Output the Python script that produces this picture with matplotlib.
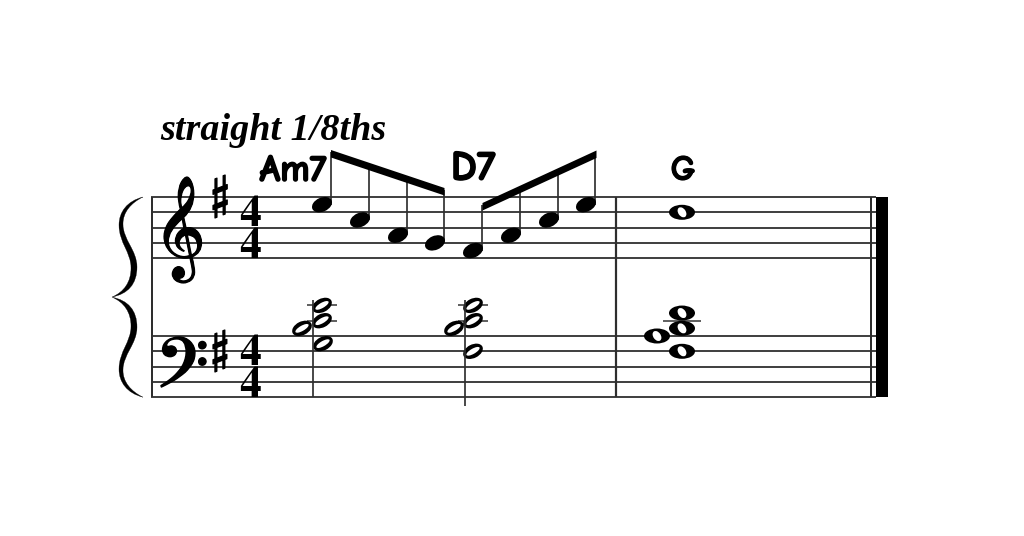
import matplotlib
matplotlib.use("Agg")
import matplotlib.pyplot as plt
import matplotlib.patheffects as pe
from matplotlib.patches import Ellipse, Polygon, PathPatch, Rectangle
from matplotlib.path import Path
from matplotlib.textpath import TextPath
from matplotlib.font_manager import FontProperties, fontManager
import numpy as np

# --- content ---
title = "straight 1/8ths"
chord_names = ["Am7", "D7", "G"]
melody_steps = [1, 3, 5, 6, 7, 5, 3, 1]          # half-spaces below top treble line
melody_x = [322, 360, 398, 435, 473, 511, 549, 586]
whole_treble = [(682, 2)]
bass_half1 = [(323, 1), (322, -2), (322, -4), (302, -1)]   # half-spaces below top bass line
bass_half2 = [(473, 2), (473, -2), (473, -4), (454, -1)]
bass_whole = [(682, 2), (682, -1), (682, -3), (657, 0)]

TREBLE_TOP, BASS_TOP, STEP = 197.0, 336.0, 7.65
INK = "#000000"; LINE = "#2e2e2e"
DPI = 100
PX = 72 / DPI

avail = {f.name for f in fontManager.ttflist}
comic = next((n for n in ["Comic Neue", "Comic Relief", "Patrick Hand", "Andika", "Open Sans"] if n in avail), "DejaVu Sans")

fig = plt.figure(figsize=(10.24, 5.36), dpi=DPI)
ax = fig.add_axes([0, 0, 1, 1])
ax.set_xlim(0, 1024); ax.set_ylim(536, 0); ax.axis("off")


def fit_text(s, x0, x1, ytop, ybot, by="height", stroke=0, linespacing=None, height=None, **fontkw):
    fp = FontProperties(**fontkw)
    first = s.split("\n")[0]
    ext = TextPath((0, 0), first, size=100, prop=fp).get_extents()
    if by == "height":
        pxsize = 100 * (height or (ybot - ytop)) / ext.height
    else:
        pxsize = 100 * (x1 - x0) / ext.width
    k = pxsize / 100
    t = ax.text(x0 - ext.x0 * k, ybot + ext.y0 * k, s, fontproperties=fp, fontsize=pxsize * PX,
                ha="left", va="baseline", color=INK, linespacing=linespacing or 1.2)
    if stroke:
        t.set_path_effects([pe.withStroke(linewidth=stroke * PX, foreground=INK)])
    return t


def staff_y(top, step):
    return top + step * STEP


def ledger(x0, x1, y):
    ax.plot([x0, x1], [y, y], color=LINE, lw=1.5 * PX, solid_capstyle="butt")


def quarter(x, y):
    ax.add_patch(Ellipse((x, y), 21, 14, angle=-24, fc=INK, ec="none", zorder=4))


def half(x, y):
    ax.add_patch(Ellipse((x, y), 21, 13.5, angle=-27, fc=INK, ec="none", zorder=4))
    ax.add_patch(Ellipse((x, y), 15, 5.2, angle=-30, fc="white", ec="none", zorder=5))


def whole(x, y):
    ax.add_patch(Ellipse((x, y), 26, 15, angle=0, fc=INK, ec="none", zorder=4))
    ax.add_patch(Ellipse((x, y), 11, 7.5, angle=55, fc="white", ec="none", zorder=5))


# staves
for top in (TREBLE_TOP, BASS_TOP):
    for i in range(5):
        y = staff_y(top, 2 * i)
        ax.plot([151, 876], [y, y], color=LINE, lw=1.8 * PX, solid_capstyle="butt", zorder=1)
y0, y1 = TREBLE_TOP, staff_y(BASS_TOP, 8)
for x, w in ((151.5, 2.0), (616, 2.2), (871, 2.0)):
    ax.plot([x, x], [y0, y1], color=LINE, lw=w * PX, solid_capstyle="butt", zorder=2)
ax.add_patch(Rectangle((876, y0), 12, y1 - y0, fc=INK, ec="none", zorder=3))

# brace
mid = (y0 + y1) / 2
def brace_half(sign):
    f = lambda y: mid + sign * (mid - y)
    v = [(143, 197), (127, 201), (119, 212), (119, 225), (119, 243), (131, 252), (131, 268),
         (131, 282), (124, 292), (112, 297), (128, 294), (137, 284), (137, 267),
         (137, 250), (123, 240), (123, 224), (123, 212), (131, 203), (143, 197)]
    v = [(x, f(y)) for x, y in v]
    return Path(v, [Path.MOVETO] + [Path.CURVE4] * 18)
for s in (1, -1):
    ax.add_patch(PathPatch(brace_half(s), fc=INK, ec=INK, lw=0.2))

# clefs, key signatures, time signatures
fit_text("\U0001D11E", 164, 202, 177, 283, stroke=1.2, family="FreeSerif")
fit_text("\U0001D122", 161, 204, 337, 387, stroke=1.5, family="FreeSerif")
fit_text("\u266F", 213, 228, 175, 218, stroke=1.2, family="FreeSerif")
fit_text("\u266F", 213, 228, 330, 372, stroke=1.2, family="FreeSerif")
fit_text("4\n4", 240, 263, 198, 258, height=30, linespacing=0.76, family="FreeSerif", weight="bold")
fit_text("4\n4", 240, 263, 338, 397, height=30, linespacing=0.76, family="FreeSerif", weight="bold")

# title and chord names
fit_text(title, 160, 385, 117, 148, by="width", family="Liberation Serif", weight="bold", style="italic")
fit_text(chord_names[0], 260, 326, 157, 181, by="width", stroke=1.6, family=comic, weight="bold")
fit_text(chord_names[1], 454, 495, 157, 180, by="width", stroke=1.6, family=comic, weight="bold")
fit_text(chord_names[2], 672, 692, 156, 180, by="height", stroke=1.2, family=comic, weight="bold")

# melody with beams
def beam(xa, ya, xb, yb, th):
    ax.add_patch(Polygon([(xa, ya), (xb, yb), (xb, yb + th), (xa, ya + th)], fc=INK, ec="none", zorder=3))

groups = [((331, 150), (444.5, 188), 7.5, 0), ((482.5, 203), (596.5, 150.5), 7.5, 4)]
for (a, b, th, start) in groups:
    beam(a[0], a[1], b[0], b[1], th)
    for i in range(start, start + 4):
        x = melody_x[i]; y = staff_y(TREBLE_TOP, melody_steps[i])
        sx = x + 9.2
        top = a[1] + (b[1] - a[1]) * (sx - a[0]) / (b[0] - a[0]) + 2
        ax.plot([sx, sx], [y, top], color=LINE, lw=1.7 * PX, solid_capstyle="butt", zorder=2)
        quarter(x, y)
for x, st in whole_treble:
    whole(x, staff_y(TREBLE_TOP, st))

# bass chords
for chord, stem, top_y, bot_y in ((bass_half1, 313, 300, 397), (bass_half2, 464.5, 300, 406)):
    ax.plot([stem, stem], [top_y, bot_y], color=LINE, lw=1.7 * PX, solid_capstyle="butt", zorder=6)
    for x, st in chord:
        half(x, staff_y(BASS_TOP, st))
    lx = chord[1][0]
    ledger(lx - 15, lx + 15, staff_y(BASS_TOP, -2))
    ledger(lx - 15, lx + 15, staff_y(BASS_TOP, -4))
for x, st in bass_whole:
    whole(x, staff_y(BASS_TOP, st))
ledger(663, 701, staff_y(BASS_TOP, -2))

fig.savefig("out.png", dpi=DPI, facecolor="white")
